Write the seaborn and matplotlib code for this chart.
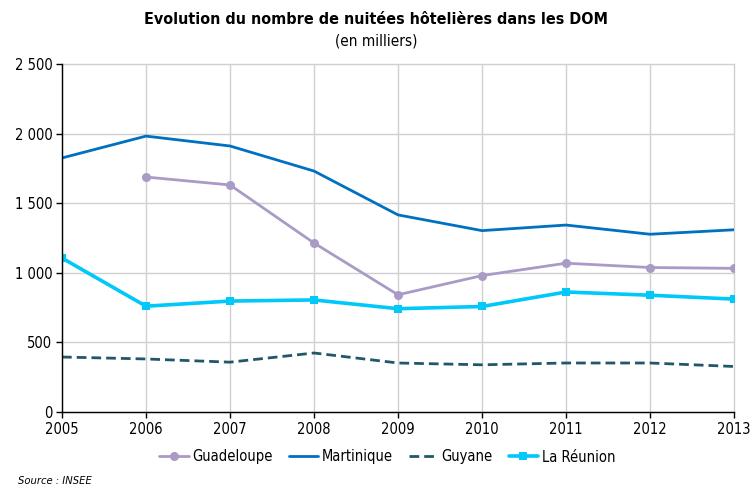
import numpy as np
import pandas as pd
import matplotlib
matplotlib.use("Agg")
import matplotlib.pyplot as plt
import seaborn as sns
from matplotlib.ticker import FuncFormatter

years = [2005, 2006, 2007, 2008, 2009, 2010, 2011, 2012, 2013]
guadeloupe = [np.nan, 1688, 1631, 1214, 842, 980, 1069, 1038, 1032]
martinique = [1825, 1982, 1911, 1731, 1416, 1303, 1343, 1277, 1309]
guyane = [395, 381, 358, 424, 352, 339, 352, 352, 327]
reunion = [1106, 760, 797, 805, 742, 758, 862, 839, 811]

series_names = ["Guadeloupe", "Martinique", "Guyane", "La Réunion"]
series_values = [guadeloupe, martinique, guyane, reunion]
colors = ["#A99BC6", "#0070C0", "#215868", "#00C8F8"]

sns.set_theme(style="white")
plt.rcParams['font.family'] = ['DejaVu Sans']
plt.rcParams['font.stretch'] = 'condensed'
plt.rcParams['text.color'] = 'black'

fig = plt.figure(figsize=(7.52, 4.87), dpi=100)
ax = fig.add_axes([62/752, 75/487, 672/752, 348/487])

styles = {
    "Guadeloupe": dict(marker="o", markersize=6.5, linewidth=2.0, dash=None),
    "Martinique": dict(marker=None, markersize=0, linewidth=2.0, dash=None),
    "Guyane": dict(marker=None, markersize=0, linewidth=2.0, dash=(3.5, 1.8)),
    "La Réunion": dict(marker="s", markersize=6, linewidth=2.6, dash=None),
}

for name, vals, c in zip(series_names, series_values, colors):
    df = pd.DataFrame({"year": years, "value": vals}).dropna()
    st = styles[name]
    sns.lineplot(data=df, x="year", y="value", ax=ax, color=c, label=name,
                 marker=st["marker"], markersize=st["markersize"],
                 markeredgewidth=0, linewidth=st["linewidth"])
    if st["dash"] is not None:
        ax.lines[-1].set_linestyle((0, st["dash"]))

ax.set_xlim(2005, 2013)
ax.set_ylim(0, 2500)
ax.set_xticks(years)
ax.set_yticks(range(0, 2501, 500))
ax.yaxis.set_major_formatter(FuncFormatter(lambda v, p: f"{int(v):,}".replace(",", " ")))
ax.grid(True, color="#D0D0D0", linewidth=1.0)
for gl in ax.get_xgridlines() + ax.get_ygridlines():
    gl.set_clip_on(False)
ax.set_axisbelow(True)
for s in ["top", "right"]:
    ax.spines[s].set_visible(False)
for s in ["left", "bottom"]:
    ax.spines[s].set_color("black")
    ax.spines[s].set_linewidth(1.0)
ax.tick_params(axis="both", which="both", direction="out", length=4, width=1,
               colors="black", labelsize=10.5, left=True, bottom=True, pad=3)
ax.set_xlabel("")
ax.set_ylabel("")

handles, labels = ax.get_legend_handles_labels()
ax.legend(handles, labels, loc="center", bbox_to_anchor=(0.515, 30/487), bbox_transform=fig.transFigure,
          ncol=4, frameon=False, fontsize=10.5, handlelength=2.0, columnspacing=1.1, handletextpad=0.25)

fig.text(0.5, 1 - 20/487, "Evolution du nombre de nuitées hôtelières dans les DOM",
         ha="center", va="center", fontsize=11.5, fontweight="bold", color="black")
fig.text(0.5, 1 - 41/487, "(en milliers)", ha="center", va="center", fontsize=11, color="black")
fig.text(18/752, 1 - 481/487, "Source : INSEE", ha="left", va="center", fontsize=8, style="italic", color="black")

fig.savefig("out.png", dpi=100)
